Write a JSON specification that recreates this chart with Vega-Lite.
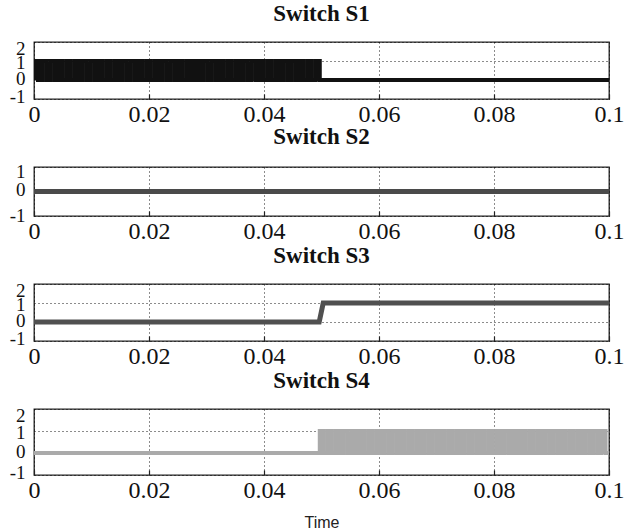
{
"$schema": "https://vega.github.io/schema/vega-lite/v6.json",
"autosize": {"type": "pad"},
"padding": {"left": 8, "top": 2, "right": 5, "bottom": 5},
"background": "white",
"bounds": "flush",
"spacing": 68,
"config": {
 "view": {"stroke": "#222", "strokeWidth": 1.3},
 "axis": {"grid": true, "gridColor": "#000", "gridDash": [1, 3], "gridWidth": 1, "gridOpacity": 0.9, "domain": false, "labelFont": "Liberation Serif", "labelColor": "#111", "labelOverlap": false, "labelFlush": false},
 "axisY": {"labelPadding": 9, "labelFontSize": 19, "ticks": false},
 "axisX": {"labelPadding": 8, "labelFontSize": 24, "ticks": true, "tickSize": -5, "tickColor": "#222", "tickWidth": 1.2},
 "title": {"font": "Liberation Serif", "fontSize": 23, "fontWeight": "bold", "color": "#111", "offset": 13, "anchor": "middle"}
},
"datasets": {
 "s1": [
  {"t":0,"v":0},{"t":0,"v":1},
  {"t":0.0007,"v":1},{"t":0.0007,"v":0},{"t":0.0014,"v":0},{"t":0.0014,"v":1},
  {"t":0.0021,"v":1},{"t":0.0021,"v":0},{"t":0.0028,"v":0},{"t":0.0028,"v":1},
  {"t":0.0035,"v":1},{"t":0.0035,"v":0},{"t":0.0042,"v":0},{"t":0.0042,"v":1},
  {"t":0.0049,"v":1},{"t":0.0049,"v":0},{"t":0.0056,"v":0},{"t":0.0056,"v":1},
  {"t":0.0063,"v":1},{"t":0.0063,"v":0},{"t":0.007,"v":0},{"t":0.007,"v":1},
  {"t":0.0077,"v":1},{"t":0.0077,"v":0},{"t":0.0084,"v":0},{"t":0.0084,"v":1},
  {"t":0.0091,"v":1},{"t":0.0091,"v":0},{"t":0.0098,"v":0},{"t":0.0098,"v":1},
  {"t":0.0105,"v":1},{"t":0.0105,"v":0},{"t":0.0112,"v":0},{"t":0.0112,"v":1},
  {"t":0.0119,"v":1},{"t":0.0119,"v":0},{"t":0.0126,"v":0},{"t":0.0126,"v":1},
  {"t":0.0133,"v":1},{"t":0.0133,"v":0},{"t":0.014,"v":0},{"t":0.014,"v":1},
  {"t":0.0147,"v":1},{"t":0.0147,"v":0},{"t":0.0154,"v":0},{"t":0.0154,"v":1},
  {"t":0.0161,"v":1},{"t":0.0161,"v":0},{"t":0.0168,"v":0},{"t":0.0168,"v":1},
  {"t":0.0175,"v":1},{"t":0.0175,"v":0},{"t":0.0182,"v":0},{"t":0.0182,"v":1},
  {"t":0.0189,"v":1},{"t":0.0189,"v":0},{"t":0.0196,"v":0},{"t":0.0196,"v":1},
  {"t":0.0203,"v":1},{"t":0.0203,"v":0},{"t":0.021,"v":0},{"t":0.021,"v":1},
  {"t":0.0217,"v":1},{"t":0.0217,"v":0},{"t":0.0224,"v":0},{"t":0.0224,"v":1},
  {"t":0.0231,"v":1},{"t":0.0231,"v":0},{"t":0.0238,"v":0},{"t":0.0238,"v":1},
  {"t":0.0245,"v":1},{"t":0.0245,"v":0},{"t":0.0252,"v":0},{"t":0.0252,"v":1},
  {"t":0.0259,"v":1},{"t":0.0259,"v":0},{"t":0.0266,"v":0},{"t":0.0266,"v":1},
  {"t":0.0273,"v":1},{"t":0.0273,"v":0},{"t":0.028,"v":0},{"t":0.028,"v":1},
  {"t":0.0287,"v":1},{"t":0.0287,"v":0},{"t":0.0294,"v":0},{"t":0.0294,"v":1},
  {"t":0.0301,"v":1},{"t":0.0301,"v":0},{"t":0.0308,"v":0},{"t":0.0308,"v":1},
  {"t":0.0315,"v":1},{"t":0.0315,"v":0},{"t":0.0322,"v":0},{"t":0.0322,"v":1},
  {"t":0.0329,"v":1},{"t":0.0329,"v":0},{"t":0.0336,"v":0},{"t":0.0336,"v":1},
  {"t":0.0343,"v":1},{"t":0.0343,"v":0},{"t":0.035,"v":0},{"t":0.035,"v":1},
  {"t":0.0357,"v":1},{"t":0.0357,"v":0},{"t":0.0364,"v":0},{"t":0.0364,"v":1},
  {"t":0.0371,"v":1},{"t":0.0371,"v":0},{"t":0.0378,"v":0},{"t":0.0378,"v":1},
  {"t":0.0385,"v":1},{"t":0.0385,"v":0},{"t":0.0392,"v":0},{"t":0.0392,"v":1},
  {"t":0.0399,"v":1},{"t":0.0399,"v":0},{"t":0.0406,"v":0},{"t":0.0406,"v":1},
  {"t":0.0413,"v":1},{"t":0.0413,"v":0},{"t":0.042,"v":0},{"t":0.042,"v":1},
  {"t":0.0427,"v":1},{"t":0.0427,"v":0},{"t":0.0434,"v":0},{"t":0.0434,"v":1},
  {"t":0.0441,"v":1},{"t":0.0441,"v":0},{"t":0.0448,"v":0},{"t":0.0448,"v":1},
  {"t":0.0455,"v":1},{"t":0.0455,"v":0},{"t":0.0462,"v":0},{"t":0.0462,"v":1},
  {"t":0.0469,"v":1},{"t":0.0469,"v":0},{"t":0.0476,"v":0},{"t":0.0476,"v":1},
  {"t":0.0483,"v":1},{"t":0.0483,"v":0},{"t":0.049,"v":0},{"t":0.049,"v":1},
  {"t":0.0497,"v":1},{"t":0.0497,"v":0},{"t":0.1,"v":0}
 ],
 "s2": [{"t":0,"v":0},{"t":0.1,"v":0}],
 "s3": [{"t":0,"v":0},{"t":0.0496,"v":0},{"t":0.0503,"v":1},{"t":0.1,"v":1}],
 "s4": [
  {"t":0,"v":0},{"t":0.0497,"v":0},{"t":0.0497,"v":1},
  {"t":0.0504,"v":1},{"t":0.0504,"v":0},{"t":0.0511,"v":0},{"t":0.0511,"v":1},
  {"t":0.0518,"v":1},{"t":0.0518,"v":0},{"t":0.0525,"v":0},{"t":0.0525,"v":1},
  {"t":0.0532,"v":1},{"t":0.0532,"v":0},{"t":0.0539,"v":0},{"t":0.0539,"v":1},
  {"t":0.0546,"v":1},{"t":0.0546,"v":0},{"t":0.0553,"v":0},{"t":0.0553,"v":1},
  {"t":0.056,"v":1},{"t":0.056,"v":0},{"t":0.0567,"v":0},{"t":0.0567,"v":1},
  {"t":0.0574,"v":1},{"t":0.0574,"v":0},{"t":0.0581,"v":0},{"t":0.0581,"v":1},
  {"t":0.0588,"v":1},{"t":0.0588,"v":0},{"t":0.0595,"v":0},{"t":0.0595,"v":1},
  {"t":0.0602,"v":1},{"t":0.0602,"v":0},{"t":0.0609,"v":0},{"t":0.0609,"v":1},
  {"t":0.0616,"v":1},{"t":0.0616,"v":0},{"t":0.0623,"v":0},{"t":0.0623,"v":1},
  {"t":0.063,"v":1},{"t":0.063,"v":0},{"t":0.0637,"v":0},{"t":0.0637,"v":1},
  {"t":0.0644,"v":1},{"t":0.0644,"v":0},{"t":0.0651,"v":0},{"t":0.0651,"v":1},
  {"t":0.0658,"v":1},{"t":0.0658,"v":0},{"t":0.0665,"v":0},{"t":0.0665,"v":1},
  {"t":0.0672,"v":1},{"t":0.0672,"v":0},{"t":0.0679,"v":0},{"t":0.0679,"v":1},
  {"t":0.0686,"v":1},{"t":0.0686,"v":0},{"t":0.0693,"v":0},{"t":0.0693,"v":1},
  {"t":0.07,"v":1},{"t":0.07,"v":0},{"t":0.0707,"v":0},{"t":0.0707,"v":1},
  {"t":0.0714,"v":1},{"t":0.0714,"v":0},{"t":0.0721,"v":0},{"t":0.0721,"v":1},
  {"t":0.0728,"v":1},{"t":0.0728,"v":0},{"t":0.0735,"v":0},{"t":0.0735,"v":1},
  {"t":0.0742,"v":1},{"t":0.0742,"v":0},{"t":0.0749,"v":0},{"t":0.0749,"v":1},
  {"t":0.0756,"v":1},{"t":0.0756,"v":0},{"t":0.0763,"v":0},{"t":0.0763,"v":1},
  {"t":0.077,"v":1},{"t":0.077,"v":0},{"t":0.0777,"v":0},{"t":0.0777,"v":1},
  {"t":0.0784,"v":1},{"t":0.0784,"v":0},{"t":0.0791,"v":0},{"t":0.0791,"v":1},
  {"t":0.0798,"v":1},{"t":0.0798,"v":0},{"t":0.0805,"v":0},{"t":0.0805,"v":1},
  {"t":0.0812,"v":1},{"t":0.0812,"v":0},{"t":0.0819,"v":0},{"t":0.0819,"v":1},
  {"t":0.0826,"v":1},{"t":0.0826,"v":0},{"t":0.0833,"v":0},{"t":0.0833,"v":1},
  {"t":0.084,"v":1},{"t":0.084,"v":0},{"t":0.0847,"v":0},{"t":0.0847,"v":1},
  {"t":0.0854,"v":1},{"t":0.0854,"v":0},{"t":0.0861,"v":0},{"t":0.0861,"v":1},
  {"t":0.0868,"v":1},{"t":0.0868,"v":0},{"t":0.0875,"v":0},{"t":0.0875,"v":1},
  {"t":0.0882,"v":1},{"t":0.0882,"v":0},{"t":0.0889,"v":0},{"t":0.0889,"v":1},
  {"t":0.0896,"v":1},{"t":0.0896,"v":0},{"t":0.0903,"v":0},{"t":0.0903,"v":1},
  {"t":0.091,"v":1},{"t":0.091,"v":0},{"t":0.0917,"v":0},{"t":0.0917,"v":1},
  {"t":0.0924,"v":1},{"t":0.0924,"v":0},{"t":0.0931,"v":0},{"t":0.0931,"v":1},
  {"t":0.0938,"v":1},{"t":0.0938,"v":0},{"t":0.0945,"v":0},{"t":0.0945,"v":1},
  {"t":0.0952,"v":1},{"t":0.0952,"v":0},{"t":0.0959,"v":0},{"t":0.0959,"v":1},
  {"t":0.0966,"v":1},{"t":0.0966,"v":0},{"t":0.0973,"v":0},{"t":0.0973,"v":1},
  {"t":0.098,"v":1},{"t":0.098,"v":0},{"t":0.0987,"v":0},{"t":0.0987,"v":1},
  {"t":0.0994,"v":1},{"t":0.0994,"v":0},{"t":0.1,"v":0}
 ]
},
"vconcat": [
 {
  "width": 575, "height": 57,
  "title": "Switch S1",
  "data": {"name": "s1"},
  "mark": {"type": "line", "color": "#111111", "strokeWidth": 4, "strokeJoin": "miter", "clip": true},
  "encoding": {
   "x": {"field": "t", "type": "quantitative", "scale": {"domain": [0, 0.1], "nice": false, "zero": false}, "axis": {"values": [0, 0.02, 0.04, 0.06, 0.08, 0.1], "labelExpr": "'' + datum.value", "title": null}},
   "y": {"field": "v", "type": "quantitative", "scale": {"domain": [-1, 2], "nice": false}, "axis": {"values": [-1, 0, 1, 2], "labelExpr": "'' + datum.value", "title": null, "labelOffset": {"condition": [{"test": "datum.value == 2", "value": 6}, {"test": "datum.value == -1", "value": -3}, {"test": "datum.value == 0", "value": -2}], "value": 1}}},
   "order": {"value": null}
  }
 },
 {
  "width": 575, "height": 49,
  "title": "Switch S2",
  "data": {"name": "s2"},
  "mark": {"type": "line", "color": "#4a4a4a", "strokeWidth": 5, "clip": true},
  "encoding": {
   "x": {"field": "t", "type": "quantitative", "scale": {"domain": [0, 0.1], "nice": false, "zero": false}, "axis": {"values": [0, 0.02, 0.04, 0.06, 0.08, 0.1], "labelExpr": "'' + datum.value", "title": null}},
   "y": {"field": "v", "type": "quantitative", "scale": {"domain": [-1, 1], "nice": false}, "axis": {"values": [-1, 0, 1], "labelExpr": "'' + datum.value", "title": null, "labelOverlap": false, "labelOffset": {"condition": [{"test": "datum.value == 1", "value": 4}, {"test": "datum.value == 0", "value": -2}], "value": -1}}},
   "order": {"value": null}
  }
 },
 {
  "width": 575, "height": 57,
  "title": "Switch S3",
  "data": {"name": "s3"},
  "mark": {"type": "line", "color": "#505050", "strokeWidth": 5, "clip": true},
  "encoding": {
   "x": {"field": "t", "type": "quantitative", "scale": {"domain": [0, 0.1], "nice": false, "zero": false}, "axis": {"values": [0, 0.02, 0.04, 0.06, 0.08, 0.1], "labelExpr": "'' + datum.value", "title": null}},
   "y": {"field": "v", "type": "quantitative", "scale": {"domain": [-1, 2], "nice": false}, "axis": {"values": [-1, 0, 1, 2], "labelExpr": "'' + datum.value", "title": null, "labelOffset": {"condition": [{"test": "datum.value == 2", "value": 6}, {"test": "datum.value == -1", "value": -3}, {"test": "datum.value == 0", "value": -2}], "value": 1}}},
   "order": {"value": null}
  }
 },
 {
  "width": 575, "height": 66,
  "title": "Switch S4",
  "data": {"name": "s4"},
  "mark": {"type": "line", "color": "#aaaaaa", "strokeWidth": 4, "strokeJoin": "miter", "clip": true},
  "encoding": {
   "x": {"field": "t", "type": "quantitative", "scale": {"domain": [0, 0.1], "nice": false, "zero": false}, "axis": {"values": [0, 0.02, 0.04, 0.06, 0.08, 0.1], "labelExpr": "'' + datum.value", "title": "Time", "titleFont": "Liberation Sans", "titleFontSize": 16, "titleFontWeight": "normal", "titleColor": "#222", "titlePadding": 12}},
   "y": {"field": "v", "type": "quantitative", "scale": {"domain": [-1, 2], "nice": false}, "axis": {"values": [-1, 0, 1, 2], "labelExpr": "'' + datum.value", "title": null, "labelOffset": {"condition": [{"test": "datum.value == 2", "value": 6}, {"test": "datum.value == -1", "value": -3}, {"test": "datum.value == 0", "value": -2}], "value": 1}}},
   "order": {"value": null}
  }
 }
]
}
